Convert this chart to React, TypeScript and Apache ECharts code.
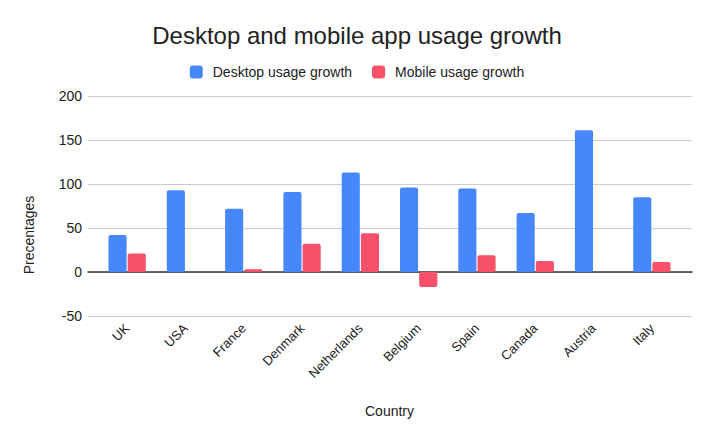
import React, { useEffect, useRef } from "react";
import * as echarts from "echarts";

const categories = ["UK", "USA", "France", "Denmark", "Netherlands", "Belgium", "Spain", "Canada", "Austria", "Italy"];
const desktopGrowth = [42, 93, 72, 91, 113, 96, 95, 67, 161, 85];
const mobileGrowth = [21, 0, 3, 32, 44, -17, 19, 12.5, 0, 11.5];
const yTicks = { min: -50, max: 200, interval: 50 };

const FONT = "Liberation Sans, Arial, sans-serif";

export default function App() {
  const ref = useRef<HTMLDivElement>(null);
  useEffect(() => {
    if (!ref.current) return;
    document.body.style.margin = "0";
    const chart = echarts.init(ref.current, null, { renderer: "svg" });
    chart.setOption({
      animation: false,
      backgroundColor: "#ffffff",
      textStyle: { fontFamily: FONT },
      title: {
        text: "Desktop and mobile app usage growth",
        left: "center",
        top: 18,
        textStyle: { fontSize: 24, fontWeight: "normal", color: "#222222", fontFamily: FONT },
      },
      legend: {
        top: 60,
        left: "center",
        itemWidth: 13,
        itemHeight: 13,
        itemGap: 20,
        icon: "roundRect",
        textStyle: { fontSize: 14, color: "#222222", fontFamily: FONT, padding: [0, 0, 0, 5] },
        data: ["Desktop usage growth", "Mobile usage growth"],
      },
      grid: [
        { left: 88, right: 22, top: 96, bottom: 124, outerBoundsMode: "none", containLabel: false },
        { left: 98, right: 33, top: 96, bottom: 124, outerBoundsMode: "none", containLabel: false },
      ],
      xAxis: [
        {
          gridIndex: 0,
          type: "value",
          min: 0,
          max: 1,
          axisLine: { show: true, onZero: true, lineStyle: { color: "#333333", width: 1.5 } },
          axisTick: { show: false },
          axisLabel: { show: false },
          splitLine: { show: false },
        },
        {
          gridIndex: 1,
          type: "category",
          data: categories,
          name: "Country",
          nameLocation: "middle",
          nameGap: 88,
          nameTextStyle: { fontSize: 14, color: "#222222", fontFamily: FONT },
          axisLine: { show: false },
          axisTick: { show: false },
          axisLabel: {
            rotate: 45,
            fontSize: 13,
            color: "#222222",
            margin: 10,
            interval: 0,
            fontFamily: FONT,
            padding: [10, 0, 0, 0],
          },
        },
      ],
      yAxis: [
        {
          gridIndex: 0,
          type: "value",
          min: yTicks.min,
          max: yTicks.max,
          interval: yTicks.interval,
          axisLine: { show: false },
          axisTick: { show: false },
          axisLabel: { fontSize: 14, color: "#222222", margin: 6, fontFamily: FONT },
          splitLine: { lineStyle: { color: "#cccccc", width: 1 } },
        },
        {
          gridIndex: 1,
          type: "value",
          min: yTicks.min,
          max: yTicks.max,
          interval: yTicks.interval,
          axisLine: { show: false },
          axisTick: { show: false },
          axisLabel: { show: false },
          splitLine: { show: false },
        },
      ],
      graphic: [
        {
          type: "text",
          x: 29,
          y: 235,
          rotation: Math.PI / 2,
          style: {
            text: "Precentages",
            align: "center",
            verticalAlign: "middle",
            fontSize: 14,
            fill: "#222222",
            fontFamily: FONT,
          },
        },
      ],
      series: [
        {
          name: "Desktop usage growth",
          type: "bar",
          xAxisIndex: 1,
          yAxisIndex: 1,
          data: desktopGrowth,
          itemStyle: { color: "#4688fc", borderRadius: 2 },
          barGap: "6%",
          barCategoryGap: "36%",
          z: 3,
        },
        {
          name: "Mobile usage growth",
          type: "bar",
          xAxisIndex: 1,
          yAxisIndex: 1,
          data: mobileGrowth,
          itemStyle: { color: "#f65168", borderRadius: 2 },
          z: 3,
        },
      ],
    });
    return () => chart.dispose();
  }, []);
  return <div ref={ref} style={{ width: 714, height: 440 }} />;
}
